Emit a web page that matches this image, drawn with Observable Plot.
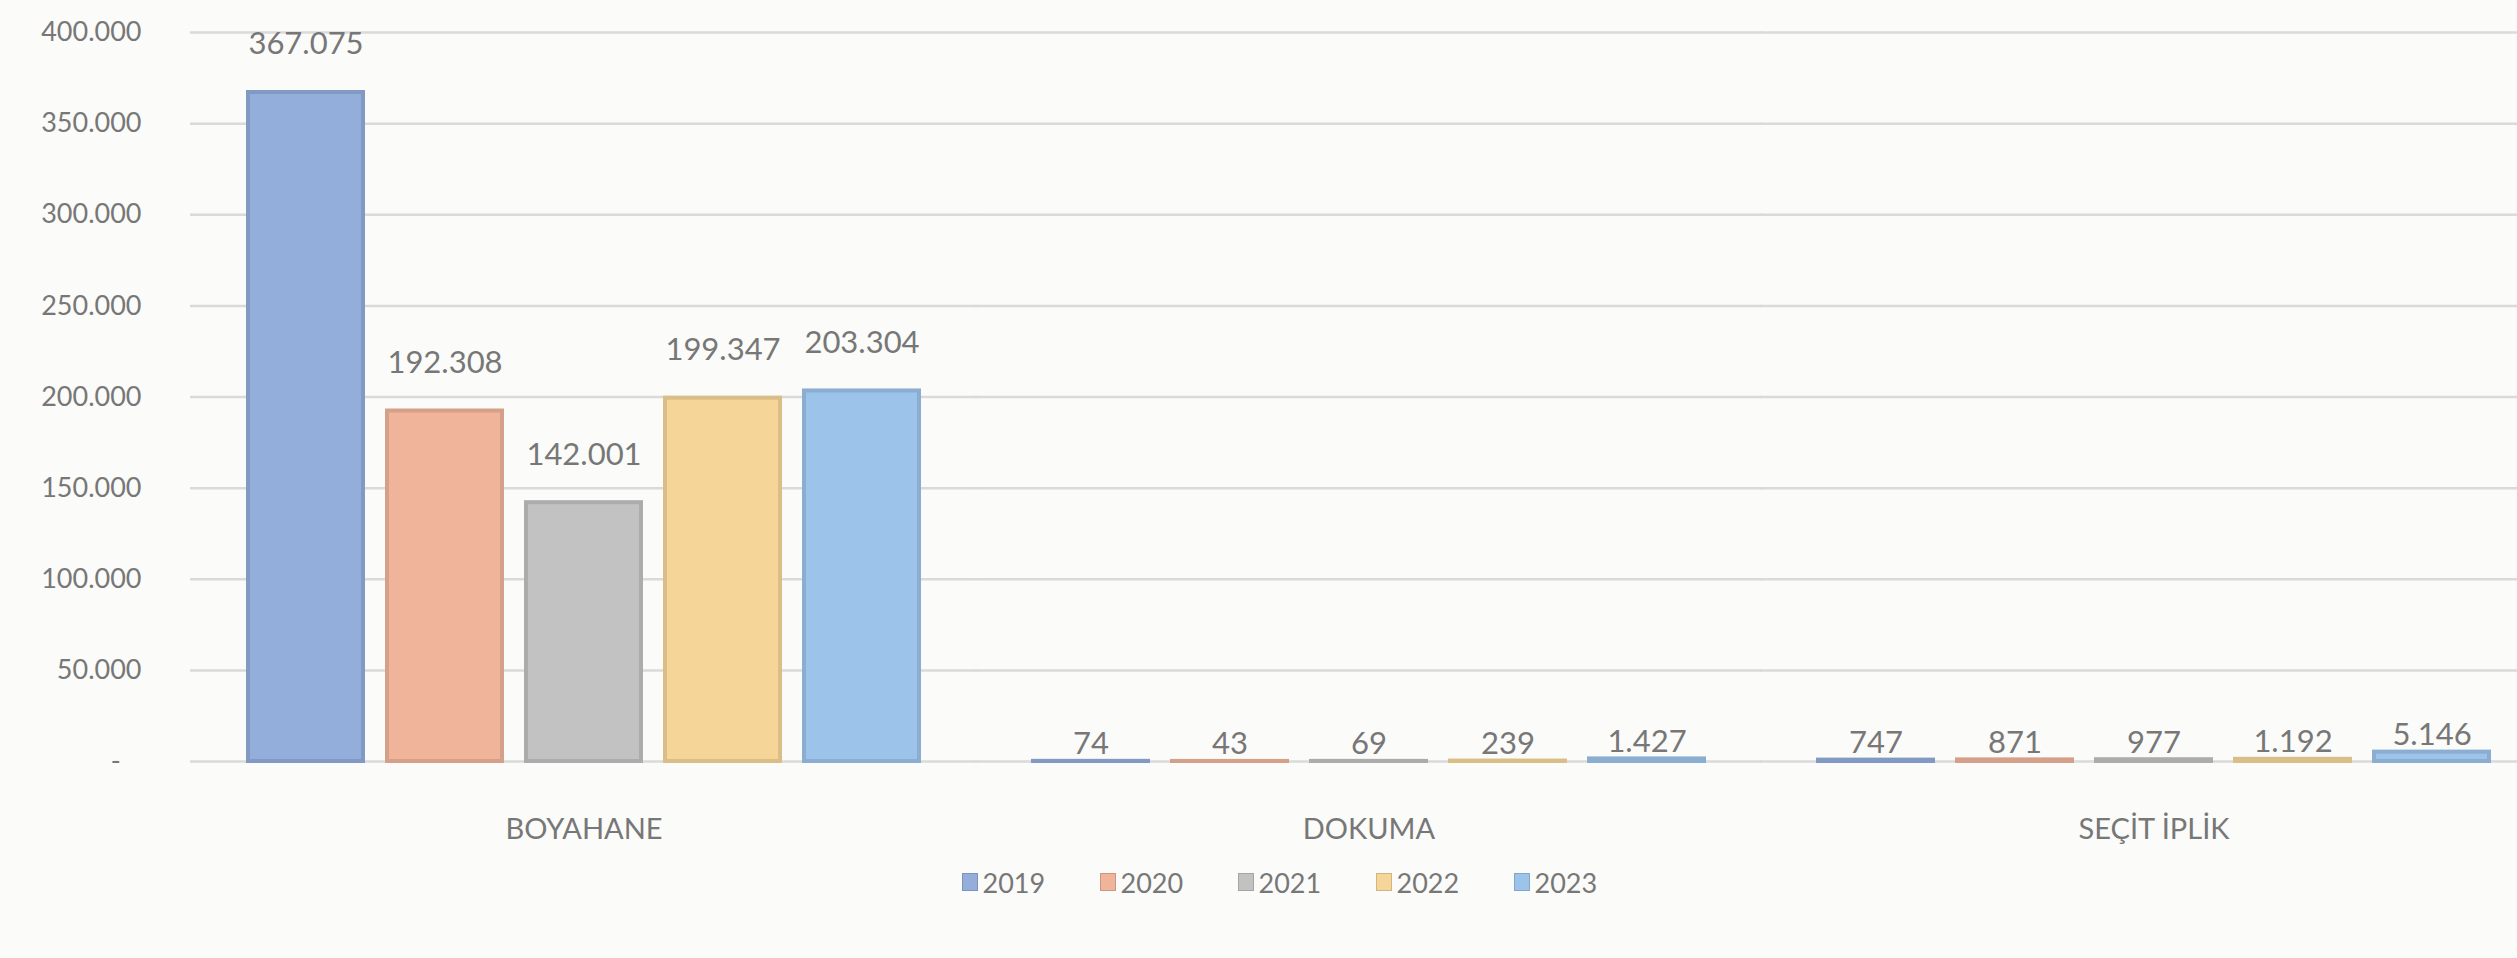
<!DOCTYPE html>
<html>
<head>
<meta charset="utf-8">
<script src="https://cdn.jsdelivr.net/npm/d3@7"></script>
<script src="https://cdn.jsdelivr.net/npm/@observablehq/plot@0.6"></script>
<style>
  html, body { margin: 0; padding: 0; background: #fbfbf9; }
  #legend { display: flex; justify-content: center; gap: 0; padding-left: 96px; height: 44px; align-items: center;
    font-family: Lato, "Open Sans", sans-serif; font-size: 27px; color: #777777; }
  .item { display: flex; align-items: center; width: 138px; }
  .sw { width: 14px; height: 16px; margin-right: 5px; }
</style>
</head>
<body>
<div id="chart"></div>
<div id="legend"></div>
<script>
const categories = ["BOYAHANE", "DOKUMA", "SEÇİT İPLİK"];
const years = ["2019", "2020", "2021", "2022", "2023"];
const v2019 = [367075, 74, 747];
const v2020 = [192308, 43, 871];
const v2021 = [142001, 69, 977];
const v2022 = [199347, 239, 1192];
const v2023 = [203304, 1427, 5146];
const fills = ["#93aedb", "#efb49a", "#c2c2c2", "#f5d698", "#9cc3ea"];
const yTicks = [0, 50000, 100000, 150000, 200000, 250000, 300000, 350000, 400000];

const series = [v2019, v2020, v2021, v2022, v2023];
const data = [];
categories.forEach((c, i) => years.forEach((y, j) => data.push({category: c, year: y, value: series[j][i]})));

const fmt = v => v === 0 ? "-\u00a0\u00a0\u00a0" : d3.format(",")(v).replace(/,/g, ".");
const textColor = "#777777";

const chart = Plot.plot({
  width: 2517,
  height: 860,
  marginLeft: 191,
  marginRight: -29,
  marginTop: 32,
  marginBottom: 99,
  style: {fontFamily: "Lato, 'Open Sans', sans-serif", fontSize: "27px", color: textColor, background: "#fbfbf9"},
  fx: {domain: categories, paddingInner: 0.14, paddingOuter: 0.07},
  x: {domain: years, paddingInner: 0.17, paddingOuter: 0, axis: null},
  y: {domain: [0, 400000]},
  color: {domain: years, range: fills},
  marks: [
    Plot.ruleY(yTicks, {stroke: "#dadada", strokeWidth: 2.5, insetLeft: -56, insetRight: -56}),
    Plot.axisY(yTicks, {tickSize: 0, tickPadding: 105, tickFormat: fmt, label: null, fill: textColor}),
    Plot.axisFx({anchor: "bottom", tickSize: 0, tickPadding: 57, label: null, fill: textColor, fontSize: 29}),
    Plot.barY(data, {fx: "category", x: "year", y: "value", fill: "year", stroke: "year", strokeWidth: 4}),
    Plot.barY(data, {fx: "category", x: "year", y: "value", fill: "none", stroke: "#000", strokeOpacity: 0.11, strokeWidth: 4}),
    Plot.text(data, {filter: d => d.value > 10000, fx: "category", x: "year", y: "value", text: d => fmt(d.value), dy: -48, fill: textColor, fontSize: 31}),
    Plot.text(data, {filter: d => d.value <= 10000, fx: "category", x: "year", y: "value", text: d => fmt(d.value), dy: -17, fill: textColor, fontSize: 31})
  ]
});
document.getElementById("chart").append(chart);

const legend = document.getElementById("legend");
years.forEach((y, i) => {
  const it = document.createElement("div");
  it.className = "item";
  const sw = document.createElement("div");
  sw.className = "sw";
  sw.style.background = fills[i];
  sw.style.border = "1px solid rgba(0,0,0,0.15)";
  it.append(sw, document.createTextNode(y));
  legend.append(it);
});
</script>
</body>
</html>
